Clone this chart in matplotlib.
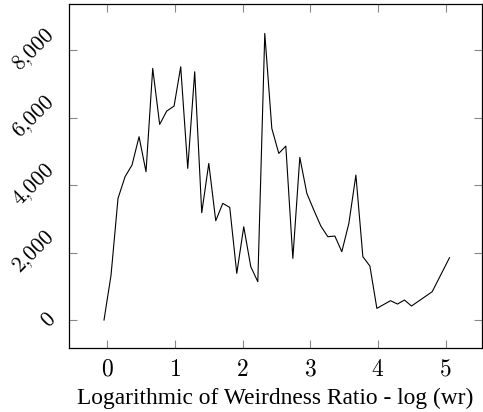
import matplotlib
matplotlib.use("Agg")
import matplotlib.pyplot as plt
from matplotlib.ticker import FuncFormatter

plt.rcParams['mathtext.fontset'] = 'cm'

# log(wr) bins and counts
log_wr = [-0.049, 0.055, 0.158, 0.262, 0.365, 0.469, 0.572, 0.671, 0.774, 0.878,
          0.987, 1.085, 1.189, 1.292, 1.396, 1.500, 1.603, 1.707, 1.810, 1.914,
          2.017, 2.121, 2.225, 2.328, 2.432, 2.535, 2.639, 2.743, 2.846, 2.950,
          3.053, 3.157, 3.260, 3.364, 3.467, 3.571, 3.675, 3.778, 3.882, 3.985,
          4.187, 4.290, 4.393, 4.497, 4.803, 5.059]
counts = [0, 1333, 3605, 4247, 4593, 5432, 4395, 7457, 5798, 6193,
          6341, 7506, 4494, 7358, 3180, 4642, 2943, 3457, 3338, 1383,
          2765, 1580, 1136, 8494, 5679, 4938, 5156, 1827, 4820, 3753,
          3259, 2785, 2469, 2489, 2025, 2864, 4296, 1877, 1600, 346,
          573, 474, 593, 415, 839, 1847]

x_ticks = [0, 1, 2, 3, 4, 5]
y_ticks = [0, 2000, 4000, 6000, 8000]

fig = plt.figure(figsize=(4.83, 4.12), dpi=100)
ax = fig.add_axes([0.1435, 0.1546, 0.8545, 0.8354])

ax.plot(log_wr, counts, color='black', linewidth=0.8)

ax.set_xlim(-0.562, 5.54)
ax.set_ylim(-838, 9363)
ax.set_xticks(x_ticks)
ax.set_yticks(y_ticks)
ax.xaxis.set_major_formatter(FuncFormatter(lambda v, p: r'$%d$' % v))
ax.yaxis.set_major_formatter(FuncFormatter(lambda v, p: r'$%s$' % f'{int(v):,}'.replace(',', '{,}')))

ax.tick_params(direction='in', length=6, width=0.8, color='#888888',
               top=True, right=True)
ax.tick_params(axis='x', pad=6, labelsize=17)
ax.tick_params(axis='y', pad=7, labelsize=15.5)
for lbl in ax.get_yticklabels():
    lbl.set_rotation(45)
    lbl.set_ha('right')
    lbl.set_va('center')

for sp in ax.spines.values():
    sp.set_linewidth(0.9)

ax.set_xlabel('Logarithmic of Weirdness Ratio - log (wr)', family='Liberation Serif',
              fontsize=16.8, labelpad=5)

fig.savefig('out.png', dpi=100)
